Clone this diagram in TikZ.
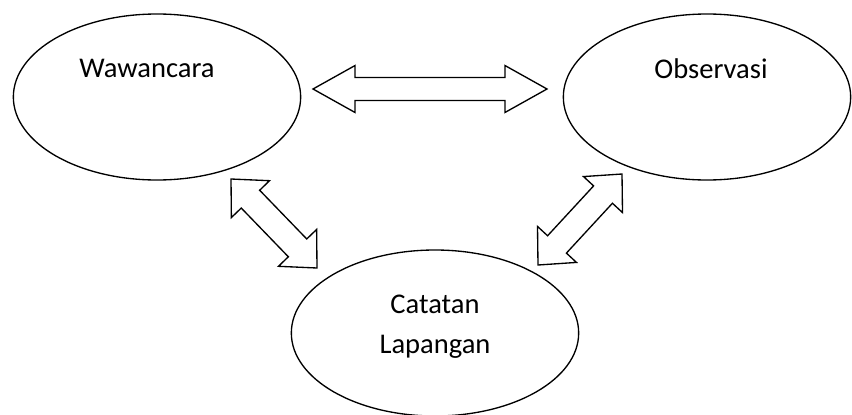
\documentclass[tikz,border=0pt]{standalone}
\usepackage{fontspec}
\setmainfont{Carlito}
\usepackage{tikz}
\usetikzlibrary{shapes.geometric}
\usetikzlibrary{calc}
\tikzset{topic/.style={draw,ellipse,line width=1pt,inner sep=0pt,
                       minimum width=215.5pt,minimum height=124.5pt}}
\tikzset{caption/.style={anchor=base,inner sep=0pt,align=center,
                         font=\fontsize{21.4pt}{30pt}\selectfont}}
\tikzset{hollow/.style={draw,fill=white,line width=1pt,line join=miter}}

% double block arrow between two tips:
% #1,#2 tips, #3 head length, #4 head half width, #5 shaft half width
\newcommand{\blockarrow}[5]{%
  \path[hollow] (#1)
    -- ($(#1)!#3!(#2)!#4!90:(#2)$)
    -- ($(#1)!#3!(#2)!#5!90:(#2)$)
    -- ($(#2)!#3!(#1)!#5!-90:(#1)$)
    -- ($(#2)!#3!(#1)!#4!-90:(#1)$)
    -- (#2)
    -- ($(#2)!#3!(#1)!#4!90:(#1)$)
    -- ($(#2)!#3!(#1)!#5!90:(#1)$)
    -- ($(#1)!#3!(#2)!#5!-90:(#2)$)
    -- ($(#1)!#3!(#2)!#4!-90:(#2)$)
    -- cycle;}

\begin{document}
\begin{tikzpicture}[x=0.75pt,y=-0.75pt]
  \path[use as bounding box,fill=white] (0,0) rectangle (852,414);

  % The three sources of data
  \node (wawancara) [topic] at (157,97) {};
  \node (observasi) [topic] at (707,97) {};
  \node (catatan)   [topic] at (435,333) {};

  % base of a two-line caption is its last line
  \node (wawancara_txt) [caption] at ([shift={(-10,-19.3)}]wawancara.center) {Wawancara};
  \node (observasi_txt) [caption] at ([shift={(4,-18.7)}]observasi.center) {Observasi};
  \node (catatan_txt)   [caption] at ([shift={(0,20)}]catatan.center) {Catatan\\Lapangan};

  % Tips of the arrows
  \coordinate (w_o) at (313,89);
  \coordinate (o_w) at (547,89);
  \coordinate (w_c) at (231,179);
  \coordinate (c_w) at (317,268);
  \coordinate (o_c) at (622,174);
  \coordinate (c_o) at (538,265);

  % The elements are now connected through double arrows:
  \blockarrow{w_o}{o_w}{31.5pt}{17.6pt}{8.6pt}
  \blockarrow{w_c}{c_w}{21pt}{19.9pt}{9.6pt}
  \blockarrow{o_c}{c_o}{21pt}{19.9pt}{9.6pt}

\end{tikzpicture}
\end{document}
